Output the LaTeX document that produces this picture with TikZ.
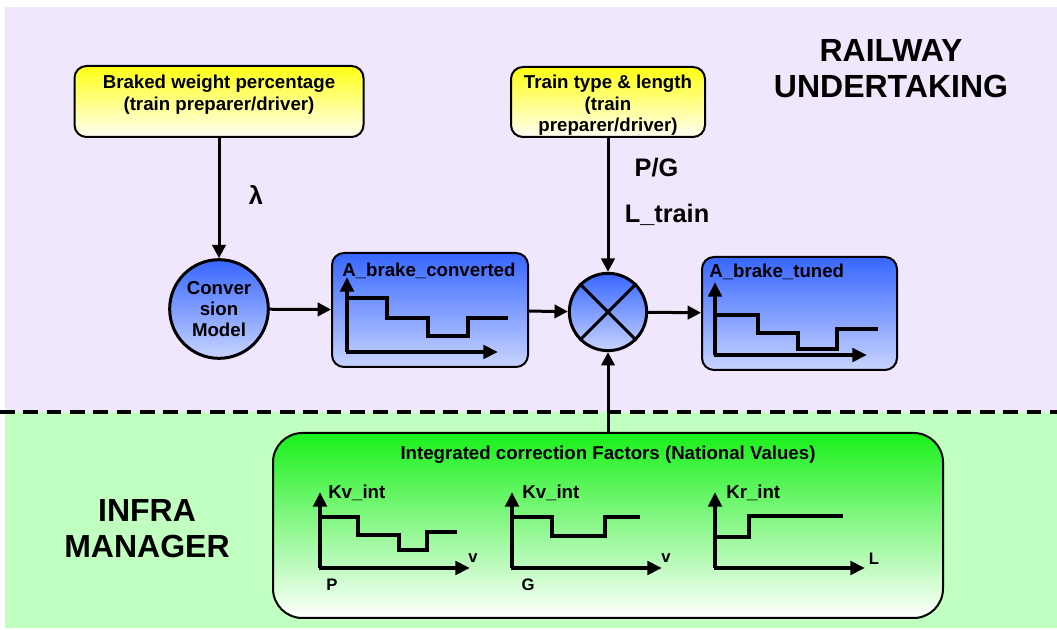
\documentclass[tikz,border=0pt]{standalone}
\usepackage{fontspec}
\setmainfont{Liberation Sans}
\usetikzlibrary{arrows.meta,shapes.geometric}
\definecolor{lav}{RGB}{241,231,253}
\definecolor{grbg}{RGB}{192,255,192}
\definecolor{blueT}{RGB}{55,102,255}
\definecolor{blueB}{RGB}{200,212,255}
\definecolor{ylT}{RGB}{255,255,20}
\definecolor{ylB}{RGB}{255,255,245}
\definecolor{grT}{RGB}{25,240,25}
\definecolor{grM}{RGB}{165,255,165}
\tikzset{
  ybox/.style={draw, line width=1.5pt, rounded corners=9pt, top color=ylT, bottom color=ylB, inner sep=0pt},
  bbox/.style={draw, line width=1.5pt, rounded corners=9pt, top color=blueT, bottom color=blueB, inner sep=0pt},
  gbox/.style={draw, line width=1.5pt, rounded corners=22pt, top color=grT, middle color=grM, bottom color=white, inner sep=0pt},
  bcirc/.style={circle, draw, line width=2.25pt, top color=blueT, bottom color=blueB, inner sep=0pt, align=center},
  arr/.style={line width=2.25pt, -{Triangle[length=10pt,width=10pt]}},
  axisline/.style={line width=3pt, -{Triangle[length=11pt,width=10pt]}},
  stepline/.style={line width=3pt},
  txt/.style={inner sep=0pt, align=center},
  big/.style={inner sep=0pt, align=center, font=\bfseries\fontsize{24}{27}\selectfont},
  mid/.style={inner sep=0pt, font=\bfseries\fontsize{19}{22}\selectfont},
  small/.style={inner sep=0pt, font=\bfseries\fontsize{12.5}{14}\selectfont},
}
\begin{document}
\begin{tikzpicture}[x=0.75pt,y=-0.75pt, font=\bfseries\fontsize{14}{16}\selectfont]
\useasboundingbox (0,0) rectangle (1057,630);
% backgrounds
\fill[lav] (5,7) rectangle (1057,412);
\fill[grbg] (5,412) rectangle (1057,628);
\draw[line width=3pt, dash pattern=on 11pt off 6.5pt] (0,412) -- (1057,412);

% labels of zones
\node[big, anchor=north] (ru) at (891,39.5) {RAILWAY\\UNDERTAKING};
\node[big, anchor=north] (im) at (147,499.5) {INFRA\\MANAGER};

% input boxes
\node[ybox, minimum width=216.75pt, minimum height=53.25pt] (bw) at (219,101.5) {};
\node[txt, anchor=north] (bwt) at (219,75) {Braked weight percentage\\(train preparer/driver)};
\node[ybox, minimum width=145.5pt, minimum height=52.5pt] (tt) at (608,102) {};
\node[txt, anchor=north] (ttt) at (608,75) {Train type \& length\\(train\\preparer/driver)};

% conversion model
\node[bcirc, minimum size=74pt] (conv) at (219,309) {Conver\\sion\\Model};

% brake converted box
\node[bbox, minimum width=147pt, minimum height=85.5pt] (bc) at (430,310) {};
\node[inner sep=0pt, anchor=base west] (bct) at (342,277) {A\_brake\_converted};

% multiplier
\node[bcirc, minimum size=58pt] (mult) at (608,312) {};
\draw[line width=2.25pt] (mult.north east) -- (mult.south west);
\draw[line width=2.25pt] (mult.north west) -- (mult.south east);

% brake tuned box
\node[bbox, minimum width=146.25pt, minimum height=84.75pt] (bt) at (799.5,313.5) {};
\node[inner sep=0pt, anchor=base west] (btt) at (709,278) {A\_brake\_tuned};

% green box
\node[gbox, minimum width=502.5pt, minimum height=138.75pt] (gb) at (608,525.5) {};
\node[inner sep=0pt, anchor=base] (gbt) at (608,460) {Integrated correction Factors (National Values)};

% connectors
\draw[arr] (bw.south) -- (bw.south |- conv.north);
\draw[arr] (conv) -- (bc);
\draw[arr] (bc) -- (mult);
\draw[arr] (tt.south) -- (mult.north);
\draw[arr] (gb.north) -- (mult.south);
\draw[arr] (mult) -- (bt);

% connector labels
\node[mid, anchor=base] (lam) at (256,205) {λ};
\node[mid, anchor=base] (pg) at (656.5,177) {P/G};
\node[mid, anchor=base] (lt) at (667,223) {L\_train};

% chart in converted box
\draw[axisline] (347,352) -- (347,277);
\draw[axisline] (345.9,352) -- (498,352);
\draw[stepline] (347,298) -- (387,298) -- (387,318) -- (428,318) -- (428,336) -- (468,336) -- (468,318) -- (508,318);

% chart in tuned box
\draw[axisline] (715,355) -- (715,282);
\draw[axisline] (713.9,355) -- (867,355);
\draw[stepline] (715,315) -- (758,315) -- (758,333) -- (798,333) -- (798,349) -- (837,349) -- (837,329) -- (878,329);

% chart P
\draw[axisline] (320,568) -- (320,492);
\draw[axisline] (318.9,568) -- (470,568);
\draw[stepline] (320,517) -- (358,517) -- (358,535) -- (399,535) -- (399,550) -- (427,550) -- (427,532) -- (457,532);
\node[inner sep=0pt, anchor=base west] (k1) at (328,499) {Kv\_int};
\node[small, anchor=base] (v1) at (473,563) {v};
\node[small, anchor=base] (p1) at (332,590) {P};

% chart G
\draw[axisline] (512,568) -- (512,492);
\draw[axisline] (510.9,568) -- (662,568);
\draw[stepline] (512,517) -- (552,517) -- (552,536) -- (605,536) -- (605,517) -- (640,517);
\node[inner sep=0pt, anchor=base west] (k2) at (522,499) {Kv\_int};
\node[small, anchor=base] (v2) at (666,563) {v};
\node[small, anchor=base] (g2) at (528,590) {G};

% chart L
\draw[axisline] (715,568) -- (715,492);
\draw[axisline] (713.9,568) -- (865,568);
\draw[stepline] (715,537) -- (749,537) -- (749,516) -- (843,516);
\node[inner sep=0pt, anchor=base west] (k3) at (726,499) {Kr\_int};
\node[small, anchor=base] (l3) at (874,565) {L};
\end{tikzpicture}
\end{document}
